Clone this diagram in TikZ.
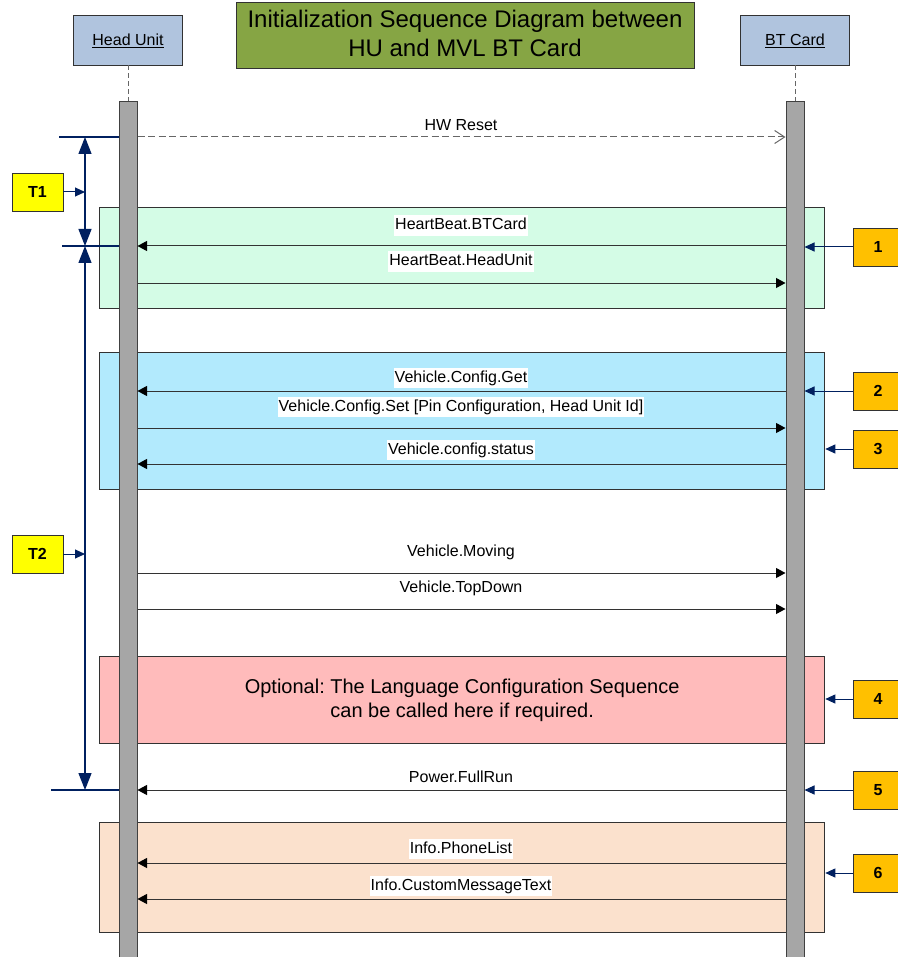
\documentclass[tikz,border=0pt]{standalone}
\usepackage{fontspec}
\setmainfont{Liberation Sans}
\usetikzlibrary{arrows.meta}
\frenchspacing

\definecolor{headfill}{RGB}{176,196,222}
\definecolor{titlegreen}{RGB}{134,165,68}
\definecolor{bargray}{RGB}{166,166,166}
\definecolor{mintfill}{RGB}{212,252,230}
\definecolor{skyfill}{RGB}{178,234,253}
\definecolor{rosefill}{RGB}{255,187,187}
\definecolor{peachfill}{RGB}{251,225,205}
\definecolor{calloutorange}{RGB}{255,192,0}
\definecolor{markyellow}{RGB}{255,255,0}
\definecolor{navy}{RGB}{0,32,96}
\definecolor{edgegray}{RGB}{50,50,50}

\begin{document}
\begin{tikzpicture}[x=1pt,y=-1pt,
  txt/.style={font=\fontsize{16}{19}\selectfont},
  header/.style={txt, draw=edgegray, fill=headfill, line width=0.9pt,
    minimum width=109pt, minimum height=50pt, inner sep=0pt,
    text height=11.5pt, text depth=0pt},
  titlebox/.style={draw=edgegray, fill=titlegreen, line width=1pt,
    minimum width=458pt, minimum height=66pt, inner sep=0pt},
  bar/.style={draw=black!75, fill=bargray, line width=1pt, anchor=north,
    minimum width=18pt, minimum height=870pt, inner sep=0pt},
  lifeline/.style={draw=black!60, line width=1pt, dash pattern=on 5pt off 3pt},
  region/.style={draw=edgegray, line width=1.3pt, anchor=north west,
    minimum width=725pt, inner sep=0pt},
  msg/.style={draw=black!80, line width=1pt,
    -{Triangle[length=9.5pt,width=10pt,color=black]}},
  reset/.style={draw=black!60, line width=1pt, dash pattern=on 7pt off 3.5pt,
    -{Straight Barb[length=10pt,width=13pt,line width=1pt]}},
  lbl/.style={txt, fill=white, inner xsep=1pt, inner ysep=2.5pt,
    text height=12pt, text depth=3.5pt},
  callout/.style={draw=edgegray, fill=calloutorange, line width=0.9pt,
    minimum width=50pt, minimum height=38pt, inner sep=0pt,
    font=\bfseries\fontsize{16}{19}\selectfont},
  tmark/.style={callout, fill=markyellow, minimum width=51pt},
  pointer/.style={draw=navy, line width=1pt, -{Triangle[length=10pt,width=9pt]}},
  dim/.style={draw=navy, line width=1.3pt},
  span/.style={dim, {Triangle[length=17pt,width=13pt]}-{Triangle[length=17pt,width=13pt]}},
]
\useasboundingbox (0,0) rectangle (897,957);

% message levels
\coordinate (yReset) at (0,137);
\coordinate (yHB1) at (0,246);
\coordinate (yHB2) at (0,283);
\coordinate (yGet) at (0,391);
\coordinate (ySet) at (0,428);
\coordinate (yStat) at (0,464);
\coordinate (yMove) at (0,573);
\coordinate (yTop) at (0,609);
\coordinate (yRun) at (0,790);
\coordinate (yPhone) at (0,863);
\coordinate (yCust) at (0,899);

% grouped phases (behind the lifelines)
\node[region, fill=mintfill, minimum height=101pt] (hbgroup) at (99,207) {};
\node[region, fill=skyfill, minimum height=137pt] (cfggroup) at (99,352) {};
\node[region, fill=rosefill, minimum height=87pt, align=center,
  font=\fontsize{20}{24}\selectfont] (langgroup) at (99,656)
  {Optional: The Language Configuration Sequence\\can be called here if required.};
\node[region, fill=peachfill, minimum height=110pt] (infogroup) at (99,822) {};

% title
\node[titlebox] (title) at (465,36) {};
\node[align=center, font=\fontsize{24}{29}\selectfont] (titletext) at (465,33.9)
  {Initialization Sequence Diagram between\\HU and MVL BT Card};

% participants
\node[header] (hu) at (128,40) {\underline{Head Unit}};
\node[header] (bt) at (795,40) {\underline{BT Card}};
\node[bar] (hubar) at (128,101) {};
\node[bar] (btbar) at (795,101) {};
\draw[lifeline] (hu.south) -- (hubar.north);
\draw[lifeline] (bt.south) -- (btbar.north);

% messages
\draw[reset] (hubar.east |- yReset) -- (btbar.west |- yReset);
\node[txt] (lReset) at (461,124.7) {HW Reset};

\draw[msg] (btbar.west |- yHB1) -- (hubar.east |- yHB1);
\node[lbl] (lHB1) at (461,225.7) {HeartBeat.BTCard};
\draw[msg] (hubar.east |- yHB2) -- (btbar.west |- yHB2);
\node[lbl] (lHB2) at (461,261.7) {HeartBeat.HeadUnit};

\draw[msg] (btbar.west |- yGet) -- (hubar.east |- yGet);
\node[lbl] (lGet) at (461,377.8) {Vehicle.Config.Get};
\draw[msg] (hubar.east |- ySet) -- (btbar.west |- ySet);
\node[lbl] (lSet) at (461,406.8) {Vehicle.Config.Set [Pin Configuration, Head Unit Id]};
\draw[msg] (btbar.west |- yStat) -- (hubar.east |- yStat);
\node[lbl] (lStat) at (461,450.2) {Vehicle.config.status};

\draw[msg] (hubar.east |- yMove) -- (btbar.west |- yMove);
\node[txt] (lMove) at (461,552.8) {Vehicle.Moving};
\draw[msg] (hubar.east |- yTop) -- (btbar.west |- yTop);
\node[txt] (lTop) at (461,588.8) {Vehicle.TopDown};

\draw[msg] (btbar.west |- yRun) -- (hubar.east |- yRun);
\node[txt] (lRun) at (461,776.8) {Power.FullRun};

\draw[msg] (btbar.west |- yPhone) -- (hubar.east |- yPhone);
\node[lbl] (lPhone) at (461,848.8) {Info.PhoneList};
\draw[msg] (btbar.west |- yCust) -- (hubar.east |- yCust);
\node[lbl] (lCust) at (461,885.8) {Info.CustomMessageText};

% timing spans on the left
\coordinate (r0) at (59,137);
\coordinate (r1) at (62,246);
\coordinate (r2) at (51,790);
\coordinate (s0) at (85,137);
\coordinate (s1) at (85,246);
\coordinate (s2) at (85,790);
\draw[dim] (r0) -- (hubar.west |- r0);
\draw[dim] (r1) -- (hubar.west |- r1);
\draw[dim] (r2) -- (hubar.west |- r2);
\draw[span] (s0) -- (s1);
\draw[span] (s1) -- (s2);

\node[tmark] (t1) at (37.5,192) {T1};
\node[tmark] (t2) at (37.5,554) {T2};
\draw[pointer] (t1.east) -- (s0 |- t1.east);
\draw[pointer] (t2.east) -- (s0 |- t2.east);

% step callouts on the right
\node[callout] (c1) at (878,247) {1};
\node[callout] (c2) at (878,391) {2};
\node[callout] (c3) at (878,449) {3};
\node[callout] (c4) at (878,699) {4};
\node[callout] (c5) at (878,790) {5};
\node[callout] (c6) at (878,873) {6};
\draw[pointer] (c1.west) -- (btbar.east |- c1.west);
\draw[pointer] (c2.west) -- (btbar.east |- c2.west);
\draw[pointer] (c3.west) -- (cfggroup.east |- c3.west);
\draw[pointer] (c4.west) -- (langgroup.east |- c4.west);
\draw[pointer] (c5.west) -- (btbar.east |- c5.west);
\draw[pointer] (c6.west) -- (infogroup.east |- c6.west);
\end{tikzpicture}
\end{document}
